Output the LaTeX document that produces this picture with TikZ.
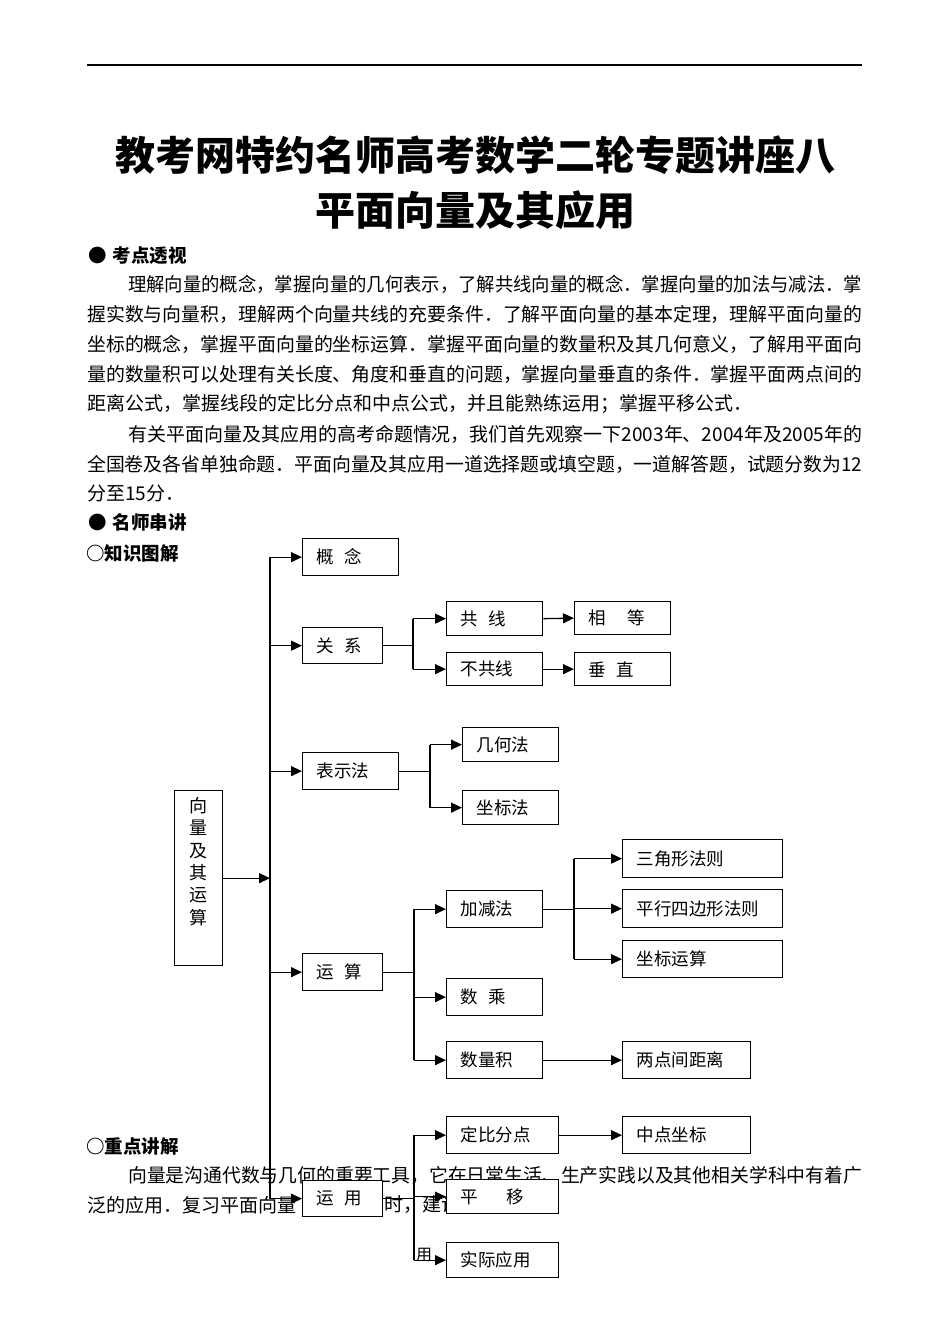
\documentclass[tikz,border=0pt]{standalone}
\usepackage{fontspec}
\usepackage{graphicx}
\setmainfont{Noto Sans CJK SC}
\usetikzlibrary{arrows.meta}

\newcommand{\bodyfont}{\fontsize{19}{24}\selectfont}
\newcommand{\boxfont}{\fontsize{17.5}{22}\selectfont}
\newcommand{\fitline}[2]{\resizebox{#1}{\height}{#2}}

\tikzset{
  txt/.style={anchor=west, inner sep=0pt, font=\bodyfont},
  head/.style={anchor=west, inner sep=0pt, font=\fontsize{18.5}{22}\selectfont\bfseries},
  titletxt/.style={inner sep=0pt, font=\fontsize{40}{48}\selectfont\bfseries},
  box/.style={draw, fill=white, line width=1.3pt, anchor=north west, inner xsep=14pt, inner ysep=0pt, align=left, font=\boxfont},
  ln/.style={line width=1.3pt},
  arr/.style={ln, -{Triangle[length=11pt,width=10pt]}},
}

\begin{document}
\begin{tikzpicture}[x=1pt, y=-1pt]

\fill[white] (0,0) rectangle (950,1342);
\useasboundingbox (0,0) rectangle (950,1342);

% Header rule and title
\draw[line width=1.3pt] (87,65) -- (862,65);
\node[titletxt] (t1) at (475,155) {教考网特约名师高考数学二轮专题讲座八};
\node[titletxt] (t2) at (475,210) {平面向量及其应用};

% Text
\node[head] (h1) at (88,256) {●\hspace{6pt}考点透视};
\node[txt] (p1) at (128,284) {\fitline{734pt}{理解向量的概念，掌握向量的几何表示，了解共线向量的概念．掌握向量的加法与减法．掌}};
\node[txt] (p2) at (87,314) {\fitline{775pt}{握实数与向量积，理解两个向量共线的充要条件．了解平面向量的基本定理，理解平面向量的}};
\node[txt] (p3) at (87,344) {\fitline{775pt}{坐标的概念，掌握平面向量的坐标运算．掌握平面向量的数量积及其几何意义，了解用平面向}};
\node[txt] (p4) at (87,374) {\fitline{775pt}{量的数量积可以处理有关长度、角度和垂直的问题，掌握向量垂直的条件．掌握平面两点间的}};
\node[txt] (p5) at (87,404) {距离公式，掌握线段的定比分点和中点公式，并且能熟练运用；掌握平移公式．};
\node[txt] (p6) at (128,434) {\fitline{734pt}{有关平面向量及其应用的高考命题情况，我们首先观察一下2003年、2004年及2005年的}};
\node[txt] (p7) at (87,464) {\fitline{775pt}{全国卷及各省单独命题．平面向量及其应用一道选择题或填空题，一道解答题，试题分数为12}};
\node[txt] (p8) at (87,493) {分至15分．};
\node[head] (h2) at (88,522) {●\hspace{6pt}名师串讲};
\node[head] (h3) at (86,553) {○知识图解};
\node[head] (h4) at (86,1146) {○重点讲解};
\node[txt] (p9) at (128,1175) {\fitline{734pt}{向量是沟通代数与几何的重要工具，它在日常生活、生产实践以及其他相关学科中有着广}};
\node[txt] (p10) at (87,1205) {泛的应用．复习平面向量};
\node[txt] (p11) at (384,1205) {时，建议};
\node[txt, font=\fontsize{16}{20}\selectfont] (p12) at (416,1255) {用};

% Root
\node[draw, fill=white, line width=1.3pt, anchor=north west, minimum width=48pt, minimum height=175pt, inner sep=0pt] (root) at (174,790) {};
\node[font=\fontsize{18}{22.4}\selectfont, align=center, anchor=north, inner sep=0pt] (rootlbl) at ([yshift=-7pt]root.north) {向\\量\\及\\其\\运\\算};

% First level
\node[box, text width=68pt, minimum height=37pt] (gainian) at (302,538) {概\hspace{.6em}念};
\node[box, text width=52pt, minimum height=36pt] (guanxi) at (302,627) {关\hspace{.6em}系};
\node[box, text width=68pt, minimum height=37pt] (biaoshi) at (302,752) {表示法};
\node[box, text width=52pt, minimum height=37pt] (yunsuan) at (302,953) {运\hspace{.6em}算};
\node[box, text width=52pt, minimum height=36pt] (yunyong) at (302,1180) {运\hspace{.6em}用};

% Second level
\node[box, text width=68pt, minimum height=34pt] (gongxian) at (446,601) {共\hspace{.6em}线};
\node[box, text width=68pt, minimum height=33pt] (bugong) at (446,652) {不共线};
\node[box, text width=68pt, minimum height=34pt] (jihe) at (462,727) {几何法};
\node[box, text width=68pt, minimum height=34pt] (zuobiao) at (462,790) {坐标法};
\node[box, text width=68pt, minimum height=37pt] (jiajian) at (446,890) {加减法};
\node[box, text width=68pt, minimum height=37pt] (shucheng) at (446,978) {数\hspace{.6em}乘};
\node[box, text width=68pt, minimum height=37pt] (shuliang) at (446,1041) {数量积};
\node[box, text width=84pt, minimum height=37pt] (dingbi) at (446,1116) {定比分点};
\node[box, text width=84pt, minimum height=34pt] (pingyi) at (446,1179) {平\hspace{1.6em}移};
\node[box, text width=84pt, minimum height=35pt] (shiji) at (446,1242) {实际应用};

% Third level
\node[box, text width=68pt, minimum height=33pt] (xiangdeng) at (574,601) {相\hspace{1.2em}等};
\node[box, text width=68pt, minimum height=33pt] (chuizhi) at (574,652) {垂\hspace{.6em}直};
\node[box, text width=132pt, minimum height=38pt] (sanjiao) at (622,839) {三角形法则};
\node[box, text width=132pt, minimum height=38pt] (pingxing) at (622,889) {平行四边形法则};
\node[box, text width=132pt, minimum height=37pt] (zbys) at (622,940) {坐标运算};
\node[box, text width=100pt, minimum height=37pt] (liangdian) at (622,1041) {两点间距离};
\node[box, text width=100pt, minimum height=37pt] (zhongdian) at (622,1116) {中点坐标};

% Trunk
\coordinate (tk) at (270,0);
\draw[ln] (tk |- gainian.west) -- (tk |- yunyong.west);
\draw[arr] (root.east) -- (tk |- root.east);
\foreach \n in {gainian,guanxi,biaoshi,yunsuan,yunyong}
  \draw[arr] (tk |- \n.west) -- (\n.west);

% Branches
\coordinate (b1) at (413,0);
\coordinate (b2) at (430,0);
\coordinate (b3) at (414,0);
\coordinate (b4) at (574,0);

\draw[ln] (guanxi.east) -- (b1 |- guanxi.east);
\draw[ln] (b1 |- gongxian.west) -- (b1 |- bugong.west);
\foreach \n in {gongxian,bugong}
  \draw[arr] (b1 |- \n.west) -- (\n.west);

\draw[ln] (biaoshi.east) -- (b2 |- biaoshi.east);
\draw[ln] (b2 |- jihe.west) -- (b2 |- zuobiao.west);
\foreach \n in {jihe,zuobiao}
  \draw[arr] (b2 |- \n.west) -- (\n.west);

\draw[ln] (yunsuan.east) -- (b3 |- yunsuan.east);
\draw[ln] (b3 |- jiajian.west) -- (b3 |- shuliang.west);
\foreach \n in {jiajian,shucheng,shuliang}
  \draw[arr] (b3 |- \n.west) -- (\n.west);

\draw[ln] (jiajian.east) -- (b4 |- jiajian.east);
\draw[ln] (b4 |- sanjiao.west) -- (b4 |- zbys.west);
\foreach \n in {sanjiao,pingxing,zbys}
  \draw[arr] (b4 |- \n.west) -- (\n.west);

\draw[ln] (yunyong.east) -- (b3 |- yunyong.east);
\draw[ln] (b3 |- dingbi.west) -- (b3 |- shiji.west);
\foreach \n in {dingbi,pingyi,shiji}
  \draw[arr] (b3 |- \n.west) -- (\n.west);

% Leaves
\draw[arr] (gongxian.east) -- (xiangdeng.west);
\draw[arr] (bugong.east) -- (chuizhi.west);
\draw[arr] (shuliang.east) -- (liangdian.west);
\draw[arr] (dingbi.east) -- (zhongdian.west);

\end{tikzpicture}
\end{document}
